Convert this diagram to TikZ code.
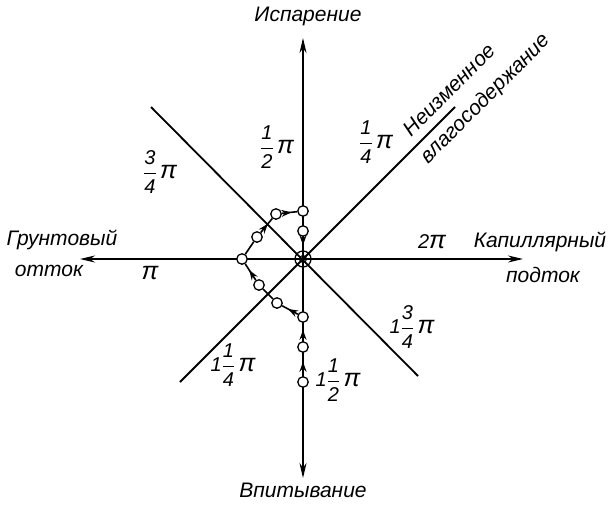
\documentclass[tikz,border=0pt]{standalone}
\usepackage{amsmath}
\usepackage{fontspec}
\setmainfont{Liberation Sans}
\usepackage{tikz}
\usetikzlibrary{arrows.meta,decorations.markings}
\newcommand{\fr}[2]{\ensuremath{\genfrac{}{}{0.9pt}{0}{\hbox{#1}}{\hbox{#2}}}}
\newcommand{\ppi}{{\fontsize{25}{25}\selectfont π}}

\begin{document}
\begin{tikzpicture}[x=1pt, y=-1pt,
    ring/.style={circle, draw, fill=white, line width=1.3pt, inner sep=0pt, minimum size=10.5pt},
    hub/.style={circle, draw, line width=1.3pt, inner sep=0pt, minimum size=16pt},
    axis/.style={line width=1.8pt, -{Stealth[length=15pt,width=7pt]}},
    diag/.style={line width=1.8pt},
    flow/.style={line width=1.6pt, postaction={decorate},
        decoration={markings, mark=at position 0.62 with {\arrow{Stealth[length=10pt,width=7pt]}}}},
    plain/.style={line width=1.6pt},
    lbl/.style={font=\fontsize{21}{23}\selectfont\itshape},
    ang/.style={font=\fontsize{20}{22}\selectfont\itshape, inner sep=0pt},
]
\useasboundingbox (0,0) rectangle (612,504);

\coordinate (o) at (303,259);
\coordinate (top) at (303,38);
\coordinate (bot) at (303,478);
\coordinate (lft) at (80,259);
\coordinate (rgt) at (523,259);
\coordinate (ul) at (151,107);
\coordinate (lr) at (418,376);
\coordinate (ll) at (180,382);
\coordinate (ur) at (455,107);

\draw[axis] (o) -- (top);
\draw[axis] (o) -- (bot);
\draw[axis] (o) -- (lft);
\draw[axis] (o) -- (rgt);
\draw[diag] (ul) -- (lr);
\draw[diag] (ll) -- (ur);

\node[hub] (hub) at (o) {};
\node[circle, draw, line width=1pt, inner sep=0pt, minimum size=7pt] (core) at (o) {};

\node[ring] (c0) at (303,382) {};
\node[ring] (c1) at (303,347) {};
\node[ring] (c2) at (303,317) {};
\node[ring] (c3) at (277,303) {};
\node[ring] (c4) at (259,285) {};
\node[ring] (c5) at (242,259) {};
\node[ring] (c6) at (257,237) {};
\node[ring] (c7) at (276,214) {};
\node[ring] (c8) at (303,211) {};
\node[ring] (c9) at (303,231) {};

\draw[flow] (c0) -- (c1);
\draw[flow] (c1) -- (c2);
\draw[flow] (c2) -- (c3);
\draw[plain] (c3) -- (c4);
\draw[flow] (c4) -- (c5);
\draw[plain] (c5) -- (c6);
\draw[flow] (c6) -- (c7);
\draw[flow] (c7) -- (c8);
\draw[plain] (c8) -- (c9);
\draw[flow] (c9) -- (hub);

\node[lbl] (evap) at (308,16) {Испарение};
\node[lbl] (soak) at (303,490) {Впитывание};
\node[lbl] (gr) at (62,240) {Грунтовый};
\node[lbl] (grout) at (49,271) {отток};
\node[lbl] (cap) at (540,242) {Капиллярный};
\node[lbl] (capin) at (543,275) {подток};
\node[lbl, rotate=45] (same) at (449,90) {Неизменное};
\node[lbl, rotate=45] (moist) at (486,99) {влагосодержание};

\node[ang] (a12) at (277,147) {\fr{1}{2}\,\ppi};
\node[ang] (a14) at (376,142) {\fr{1}{4}\,\ppi};
\node[ang] (a34) at (160,172) {\fr{3}{4}\,\ppi};
\node[ang] (a1) at (150,273) {\ppi};
\node[ang] (a2) at (432,242) {2\ppi};
\node[ang] (a134) at (412,327) {1\fr{3}{4}\,\ppi};
\node[ang] (a114) at (233,365) {1\fr{1}{4}\,\ppi};
\node[ang] (a112) at (338,380) {1\fr{1}{2}\,\ppi};
\end{tikzpicture}
\end{document}
